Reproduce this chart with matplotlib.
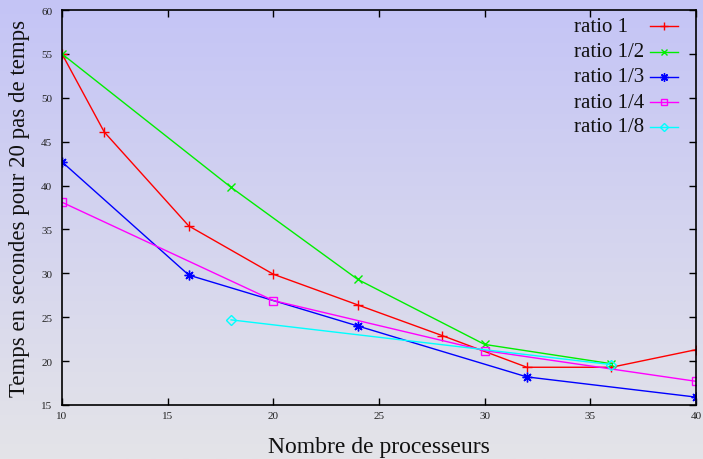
import numpy as np
import matplotlib
matplotlib.use("Agg")
import matplotlib.pyplot as plt
from matplotlib.lines import Line2D

# data
x_r1 = [10, 12, 16, 20, 24, 28, 32, 36, 40]
y_r1 = [55.0, 46.1, 35.4, 29.9, 26.4, 22.9, 19.3, 19.3, 21.3]
x_r2 = [10, 18, 24, 30, 36]
y_r2 = [55.0, 39.8, 29.3, 21.9, 19.7]
x_r3 = [10, 16, 24, 32, 40]
y_r3 = [42.7, 29.8, 24.0, 18.2, 15.9]
x_r4 = [10, 20, 30, 40]
y_r4 = [38.1, 26.9, 21.2, 17.7]
x_r8 = [18, 36]
y_r8 = [24.7, 19.6]

labels = ['ratio 1', 'ratio 1/2', 'ratio 1/3', 'ratio 1/4', 'ratio 1/8']

plt.rcParams['font.family'] = ['Liberation Serif', 'DejaVu Serif']

W, H = 703, 460
fig = plt.figure(figsize=(W / 100, H / 100), dpi=100)

# gradient background over the whole figure
bg = fig.add_axes([0, 0, 1, 1], zorder=-10)
top = np.array([196, 196, 246]) / 255.0
bot = np.array([228, 228, 232]) / 255.0
t = np.linspace(0, 1, 256)[:, None]
grad = top[None, :] * (1 - t) + bot[None, :] * t
bg.imshow(grad[:, None, :], aspect='auto', extent=[0, 1, 0, 1])
bg.axis('off')

ax = fig.add_axes([0.0882, 0.1174, 0.9018, 0.8586])
ax.patch.set_alpha(0)

styles = [
    dict(color='#ff0000', marker='+', ms=7, mfc='none'),
    dict(color='#00ee00', marker='x', ms=6, mfc='none'),
    dict(color='#0000ff', marker=(8, 2, 0), ms=7, mfc='none'),
    dict(color='#ff00ff', marker='s', ms=6, mfc='none'),
    dict(color='#00ffff', marker='D', ms=5, mfc='none'),
]
series = [(x_r1, y_r1), (x_r2, y_r2), (x_r3, y_r3), (x_r4, y_r4), (x_r8, y_r8)]

for (xs, ys), st in zip(series, styles):
    ax.plot(xs, ys, lw=1, mew=1, **st)

ax.set_xlim(10, 40)
ax.set_ylim(15, 60)
ax.set_xticks(range(10, 41, 5))
ax.set_yticks(range(15, 61, 5))
ax.tick_params(direction='in', top=True, right=True, labelsize=8, length=5, width=1,
               labelcolor='#222222')
ax.tick_params(axis='x', pad=4)
ax.tick_params(axis='y', pad=7)
for s in ax.spines.values():
    s.set_linewidth(1.2)

ax.set_xlabel('Nombre de processeurs', fontsize=17, labelpad=11.5, color='#111111')
ax.set_ylabel('Temps en secondes pour 20 pas de temps', fontsize=16.5, labelpad=8,
              color='#111111')

# gnuplot-style key: label left-aligned, sample line to the right
row_y = [27, 52.5, 78, 103, 128]
for lab, st, py in zip(labels, styles, row_y):
    fy = 1 - py / H
    fig.text(574 / W, fy, lab, fontsize=15, ha='left', va='center', color='#111111')
    fig.add_artist(Line2D([650 / W, 664 / W, 678 / W], [fy, fy, fy], lw=1, mew=1,
                          markevery=[1], transform=fig.transFigure,
                          **{**st, 'ms': st['ms'] - 1}))

fig.savefig('out.png', dpi=100)
